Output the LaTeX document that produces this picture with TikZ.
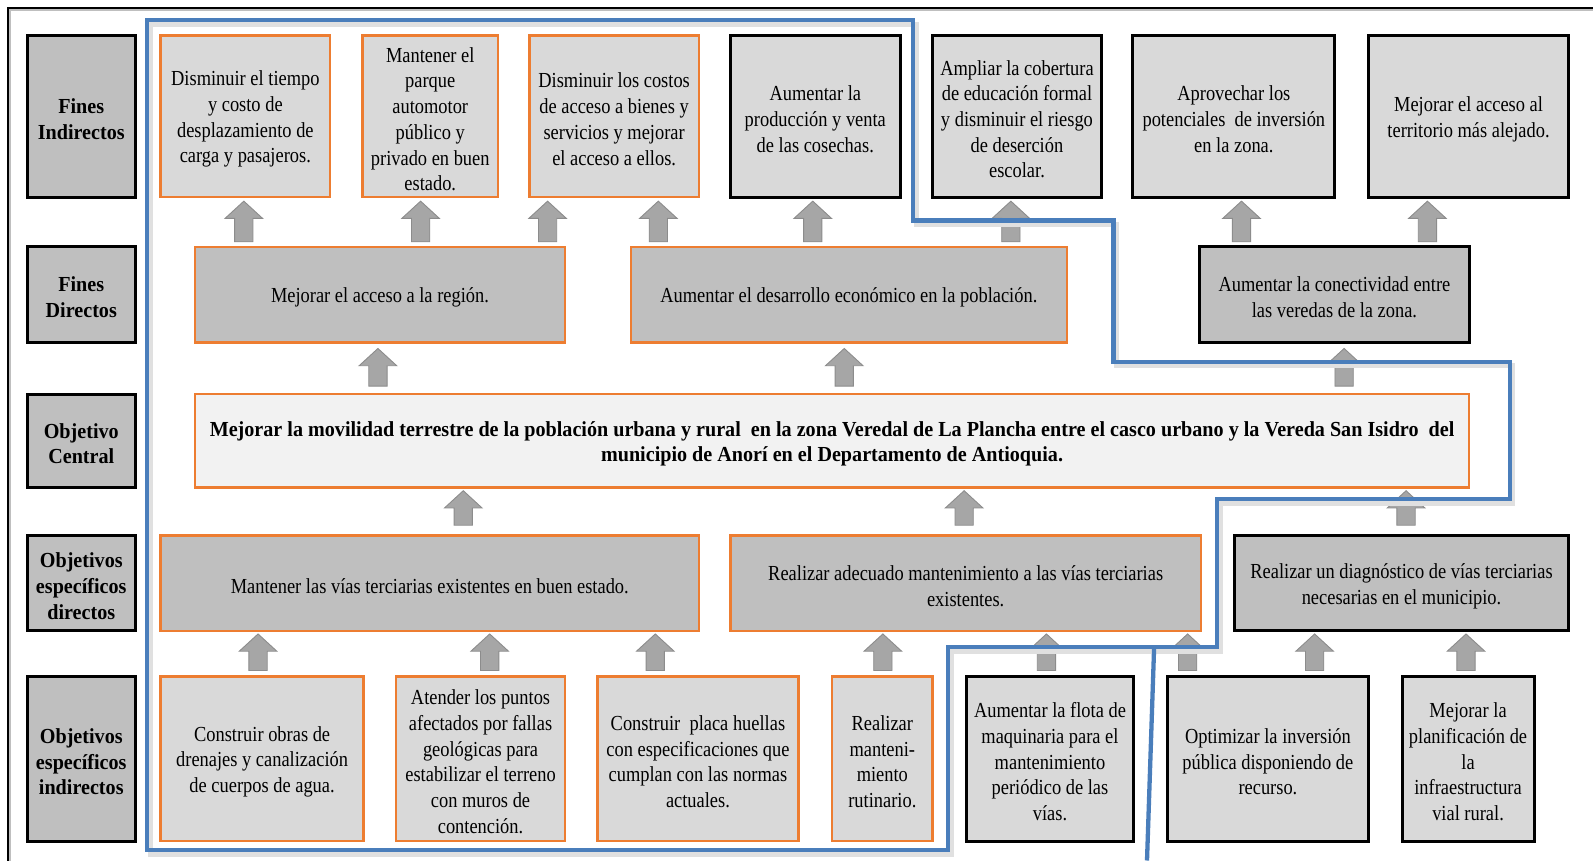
\documentclass[tikz,border=0pt]{standalone}
\usepackage{fontspec}
\setmainfont[FakeStretch=0.86,BoldFeatures={FakeStretch=0.94}]{Liberation Serif}
\definecolor{orng}{HTML}{ED7D31}
\definecolor{blu}{HTML}{4A7EBB}
\definecolor{lg}{HTML}{D9D9D9}
\definecolor{mg}{HTML}{BFBFBF}
\definecolor{cg}{HTML}{F2F2F2}
\definecolor{ag}{HTML}{A6A6A6}
\newcommand{\bx}[7]{\node[#6, minimum width={(#4-#2)*0.02cm}, minimum height={(#5-#3)*0.02cm}] (#1) at ({(#2+#4)/2},{(#3+#5)/2}) {};
  \node[#6, draw=none, fill=none, yshift=-1.6pt] at (#1.center) {#7};}
\newcommand{\blockarr}[3]{\filldraw[arrst] ({#1-9},#3) -- ({#1-9},{#2+17}) -- ({#1-18.5},{#2+17}) -- (#1,#2) -- ({#1+18.5},{#2+17}) -- ({#1+9},{#2+17}) -- ({#1+9},#3) -- cycle;}
\tikzset{
  base/.style={inner sep=0pt, outer sep=0pt, align=center, font=\fontsize{12}{14.4}\selectfont, text=black},
  obox/.style={base, draw=orng, line width=1.4pt},
  kbox/.style={base, draw=black, line width=1.7pt},
  lab/.style={kbox, fill=mg, font=\bfseries\fontsize{12}{14.4}\selectfont},
  arrst/.style={fill=ag, draw=black!45, line width=0.5pt, line join=miter},
  blueline/.style={draw=blu, line width=2.4pt, line join=miter},
  blueshadow/.style={draw=black!12, line width=3pt, line join=miter}
}
\begin{document}
\begin{tikzpicture}[x={(0.02cm,0)}, y={(0,-0.02cm)}]
\useasboundingbox (0,0) rectangle (1568,847);
\fill[white] (0,0) rectangle (1568,847);
% outer frame
\draw[black!25, line width=1.5pt] (10,847) -- (10,10) -- (1568,10);
\draw[black, line width=1.2pt] (8,847) -- (8,8) -- (1568,8);

% row labels
\bx{L1}{27}{35}{133}{194}{lab}{Fines\\Indirectos}
\bx{L2}{27}{243}{133}{337}{lab}{Fines\\Directos}
\bx{L3}{27}{388}{133}{480}{lab}{Objetivo\\Central}
\bx{L4}{27}{527}{133}{621}{lab}{Objetivos\\específicos\\directos}
\bx{L5}{27}{666}{133}{828}{lab}{Objetivos\\específicos\\indirectos}

% row 1: fines indirectos
\bx{B1}{158}{35}{325}{194}{obox,fill=lg}{Disminuir el tiempo\\y costo de\\desplazamiento de\\carga y pasajeros.}
\bx{B2}{357}{35}{490}{194}{obox,fill=lg}{Mantener el\\parque\\automotor\\público y\\privado en buen\\estado.}
\bx{B3}{521}{35}{688}{194}{obox,fill=lg}{Disminuir los costos\\de acceso a bienes y\\servicios y mejorar\\el acceso a ellos.}
\bx{B4}{719}{35}{886}{194}{kbox,fill=lg}{Aumentar la\\producción y venta\\de las cosechas.}
\bx{B5}{918}{35}{1084}{194}{kbox,fill=lg}{Ampliar la cobertura\\de educación formal\\y disminuir el riesgo\\de deserción\\escolar.}
\bx{B6}{1115}{35}{1314}{194}{kbox,fill=lg}{Aprovechar los\\potenciales\ \ de inversión\\en la zona.}
\bx{B7}{1347}{35}{1544}{194}{kbox,fill=lg}{Mejorar el acceso al\\territorio más alejado.}

% row 2: fines directos
\bx{D1}{192}{243}{556}{337}{obox,fill=mg}{Mejorar el acceso a la región.}
\bx{D2}{621}{243}{1050}{337}{obox,fill=mg}{Aumentar el desarrollo económico en la población.}
\bx{D3}{1181}{243}{1446}{337}{kbox,fill=mg}{Aumentar la conectividad entre\\las veredas de la zona.}

% row 3: objetivo central
\bx{C}{192}{388}{1446}{480}{obox,fill=cg,font=\bfseries\fontsize{12}{14.4}\selectfont}{Mejorar la movilidad terrestre de la población urbana y rural\ \ en la zona Veredal de La Plancha entre el casco urbano y la Vereda San Isidro\ \ del\\municipio de Anorí en el Departamento de Antioquia.}

% row 4: objetivos especificos directos
\bx{E1}{158}{527}{688}{621}{obox,fill=mg}{Mantener las vías terciarias existentes en buen estado.}
\bx{E2}{719}{527}{1182}{621}{obox,fill=mg}{Realizar adecuado mantenimiento a las vías terciarias\\existentes.}
\bx{E3}{1215}{527}{1544}{621}{kbox,fill=mg}{Realizar un diagnóstico de vías terciarias\\necesarias en el municipio.}

% row 5: objetivos especificos indirectos
\bx{F1}{158}{666}{358}{828}{obox,fill=lg}{Construir obras de\\drenajes y canalización\\de cuerpos de agua.}
\bx{F2}{390}{666}{556}{828}{obox,fill=lg}{Atender los puntos\\afectados por fallas\\geológicas para\\estabilizar el terreno\\con muros de\\contención.}
\bx{F3}{588}{666}{786}{828}{obox,fill=lg}{Construir\ \ placa huellas\\con especificaciones que\\cumplan con las normas\\actuales.}
\bx{F4}{819}{666}{918}{828}{obox,fill=lg}{Realizar\\manteni-\\miento\\rutinario.}
\bx{F5}{951}{666}{1116}{828}{kbox,fill=lg}{Aumentar la flota de\\maquinaria para el\\mantenimiento\\periódico de las\\vías.}
\bx{F6}{1149}{666}{1347}{828}{kbox,fill=lg}{Optimizar la inversión\\pública disponiendo de\\recurso.}
\bx{F7}{1380}{666}{1510}{828}{kbox,fill=lg}{Mejorar la\\planificación de\\la\\infraestructura\\vial rural.}

% block arrows row 1
\foreach \ax in {240,414,539,648,800,995,1222,1405} {\blockarr{\ax}{198}{238}}
% row 2
\foreach \ax in {372,831,1323} {\blockarr{\ax}{343}{380}}
% row 3
\foreach \ax in {456,949,1384} {\blockarr{\ax}{483}{517}}
% row 4
\foreach \ax in {254,482,645,869,1030,1169,1294,1443} {\blockarr{\ax}{624}{660}}

% blue boundary
\begin{scope}[shift={(3,4)}]
\draw[blueshadow] (145,20) -- (899,20) -- (899,217) -- (1096,217) -- (1096,356) -- (1486,356) -- (1486,491) -- (1198,491) -- (1198,637) -- (933,637) -- (933,837) -- (145,837) -- cycle;
\end{scope}
\draw[blueline] (145,20) -- (899,20) -- (899,217) -- (1096,217) -- (1096,356) -- (1486,356) -- (1486,491) -- (1198,491) -- (1198,637) -- (933,637) -- (933,837) -- (145,837) -- cycle;
\coordinate (bj) at (1136,637);
\coordinate (bb) at (1129,847);
\draw[blueline] (bj) -- (bb);
\end{tikzpicture}
\end{document}
